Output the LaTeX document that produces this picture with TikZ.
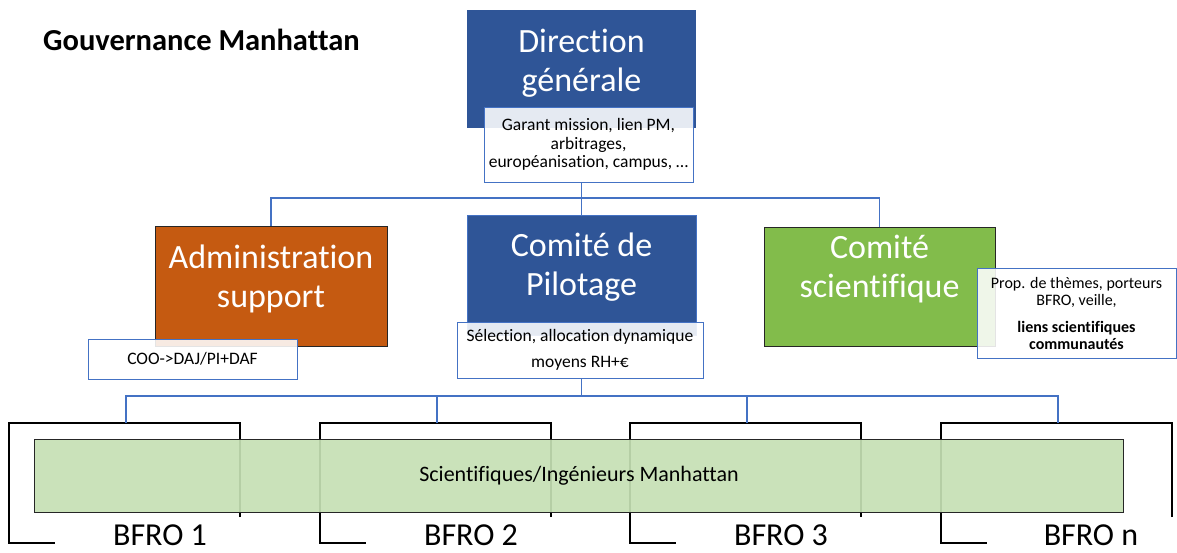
\documentclass[tikz,border=0pt]{standalone}
\usepackage{fontspec}
\setmainfont{Carlito}[Ligatures=CommonOff]
\definecolor{dgblue}{HTML}{2F5597}
\definecolor{adorange}{HTML}{C55A11}
\definecolor{csgreen}{HTML}{82BC4B}
\definecolor{bandgreen}{HTML}{C5E0B4}
\definecolor{linkblue}{HTML}{4472C4}
\definecolor{edgegray}{HTML}{262626}
\tikzset{
  box/.style={inner sep=0pt, outer sep=0pt},
  note/.style={draw=linkblue, fill=white, fill opacity=0.88, text opacity=1, line width=1pt,
    inner sep=0pt, outer sep=0pt, align=center, font=\fontsize{17.5}{18.5}\selectfont},
  bigtext/.style={text=white, align=center, anchor=north, inner sep=0pt, font=\fontsize{34}{39}\selectfont},
  link/.style={draw=linkblue, line width=1.1pt},
  bracketline/.style={draw=black, line width=1.3pt},
  bfro/.style={anchor=base, inner sep=0pt, font=\fontsize{32}{38}\selectfont}
}
\begin{document}
\begin{tikzpicture}[x=1pt,y=-1pt]
\useasboundingbox (0,0) rectangle (1177,552);

% title
\node[anchor=base west, inner sep=0pt, font=\fontsize{30.5}{35}\selectfont\bfseries] (title) at (43,50) {Gouvernance Manhattan};

% main boxes
\node[box, fill=dgblue, minimum width=229, minimum height=118] (dg) at (581.5,69) {};
\node[box, fill=dgblue, draw=linkblue, line width=0.6pt, minimum width=229, minimum height=120] (cdp) at (581.5,275) {};
\node[box, fill=adorange, draw=edgegray, line width=0.8pt, minimum width=232, minimum height=120] (admin) at (271,286) {};
\node[box, fill=csgreen, draw=edgegray, line width=0.8pt, minimum width=231, minimum height=119] (cs) at (879.5,286.5) {};

\node[bigtext] (dgT) at (581.5,25) {\strut Direction\\générale};
\node[bigtext] (cdpT) at (581.5,229) {\strut Comité de\\Pilotage};
\node[bigtext] (adminT) at (271,241) {\strut Administration\\support};
\node[bigtext] (csT) at (879.5,230.5) {\strut Comité\\scientifique};

% connectors (top)
\coordinate (busT) at (0,198);
\draw[link] (cdp.north) -- (cdp.north |- 0,182);
\draw[link] (admin.north) -- (admin.north |- busT) -- (cs.north |- busT) -- (cs.north);

% notes
\node[note, minimum width=209, minimum height=75] (garant) at (588.5,144.5)
  {Garant mission, lien PM,\\arbitrages,\\européanisation, campus, …};
\node[note, minimum width=209, minimum height=40] (coo) at (192.5,359) {COO->DAJ/PI+DAF};
\node[note, minimum width=246, minimum height=56, font=\fontsize{17.5}{26}\selectfont] (sel) at (580,350)
  {Sélection, allocation dynamique\\moyens RH+€};
\node[note, minimum width=199, minimum height=90, font=\fontsize{16}{17}\selectfont] (prop) at (1076.5,313)
  {Prop. de thèmes, porteurs\\BFRO, veille,\\[10pt]\textbf{liens scientifiques}\\\textbf{communautés}};

% BFRO brackets
\foreach \i/\L in {1/9,2/320,3/630,4/941}{
  \coordinate (tl\i) at (\L,423);
  \coordinate (tr\i) at (\L+231,423);
  \coordinate (rb\i) at (\L+231,517);
  \coordinate (lb\i) at (\L,543);
  \coordinate (be\i) at (\L+46,543);
  \coordinate (drop\i) at (\L+117,423);
  \draw[bracketline] (rb\i) -- (tr\i) -- (tl\i) -- (lb\i) -- (be\i);
}

% bottom connectors
\coordinate (busB) at (0,396);
\draw[link] (cdp.north |- sel.south) -- (cdp.north |- busB);
\draw[link] (drop1) -- (drop1 |- busB) -- (drop4 |- busB) -- (drop4);
\draw[link] (drop2) -- (drop2 |- busB);
\draw[link] (drop3) -- (drop3 |- busB);

% band
\node[box, fill=bandgreen, fill opacity=0.92, draw=edgegray, line width=0.8pt, minimum width=1089, minimum height=73] (band) at (578.5,475.5) {};
\node[inner sep=0pt, font=\fontsize{22}{26}\selectfont] (bandT) at (579,476) {Scientifiques/Ingénieurs Manhattan};

% BFRO labels
\node[bfro] (bfro1) at (160,545.5) {BFRO 1};
\node[bfro] (bfro2) at (471,545.5) {BFRO 2};
\node[bfro] (bfro3) at (781,545.5) {BFRO 3};
\node[bfro] (bfron) at (1091,545) {BFRO n};
\end{tikzpicture}
\end{document}
